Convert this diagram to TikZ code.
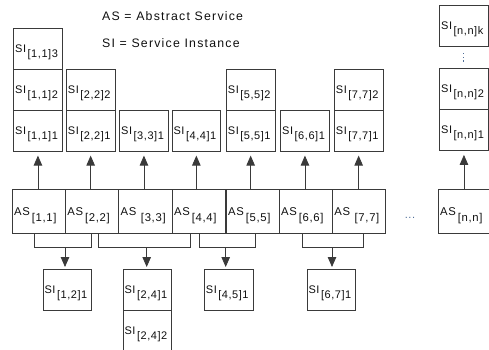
\documentclass[tikz,border=0pt]{standalone}
\usepackage{fontspec}
\setmainfont{Liberation Sans}
\newfontfamily\boxf[LetterSpace=5]{Liberation Sans}
\newfontfamily\asf[LetterSpace=6]{Liberation Sans}
\newfontfamily\legf[LetterSpace=10]{Liberation Sans}
\usetikzlibrary{arrows.meta,calc}
\definecolor{lc}{HTML}{3A3A3A}
\definecolor{tc}{HTML}{101010}
\definecolor{dc}{HTML}{4F6E98}
\newcommand{\silab}[1]{SI\kern1.5pt\raisebox{-5pt}{#1}}
\newcommand{\aslab}[2][2pt]{AS\kern#1\raisebox{-5.5pt}{#2}}
\begin{document}
\begin{tikzpicture}[x=1pt,y=-1pt,
  sibox/.style={draw=lc, line width=0.8pt, anchor=north west, inner xsep=1.5pt, inner ysep=0pt,
    text width=45.5pt, align=left, minimum height=41pt, text height=7.5pt, text depth=0pt,
    font=\boxf\fontsize{11}{12}\selectfont, text=tc},
  asbox/.style={draw=lc, line width=0.8pt, anchor=north west, inner xsep=2pt, inner ysep=0pt,
    text width=49.3pt, align=left, minimum height=43.7pt, text height=8.6pt, text depth=0pt,
    font=\asf\fontsize{11.3}{12}\selectfont, text=tc},
  ln/.style={draw=lc, line width=0.8pt},
  arr/.style={ln, -{Triangle[width=8.5pt,length=10pt]}},
  dotm/.style={fill=dc, inner sep=0pt, minimum width=1.3pt, minimum height=1.6pt},
  leg/.style={anchor=base west, inner sep=0pt, font=\legf\fontsize{12.3}{14}\selectfont, text=tc}
]
\useasboundingbox (0,0) rectangle (489,349);
\fill[white] (0,0) rectangle (489,349);

% legend
\node[leg] (legas) at (102,20) {AS = Abstract Service};
\node[leg] (legsi) at (102,47.7) {SI = Service Instance};

% upper service instances
\node[sibox] (s113) at (13.3,28.3) {\silab{[1,1]3}};
\node[sibox] (s112) at (13.3,69.3) {\silab{[1,1]2}};
\node[sibox] (s111) at (13.3,110) {\silab{[1,1]1}};
\node[sibox] (s222) at (66,69.3) {\silab{[2,2]2}};
\node[sibox] (s221) at (66,110) {\silab{[2,2]1}};
\node[sibox] (s331) at (119.3,110) {\silab{[3,3]1}};
\node[sibox] (s441) at (171.7,110) {\silab{[4,4]1}};
\node[sibox] (s552) at (226,69.3) {\silab{[5,5]2}};
\node[sibox] (s551) at (226,110) {\silab{[5,5]1}};
\node[sibox] (s661) at (280.3,110) {\silab{[6,6]1}};
\node[sibox] (s772) at (334,69.3) {\silab{[7,7]2}};
\node[sibox] (s771) at (334,110) {\silab{[7,7]1}};
\node[sibox] (snnk) at (439.3,5.3) {\silab{[n,n]k}};
\node[sibox] (snn2) at (439.3,68.3) {\silab{[n,n]2}};
\node[sibox] (snn1) at (439.3,109.3) {\silab{[n,n]1}};
\node[dotm] (vd1) at (463.8,53.5) {};
\node[dotm] (vd2) at (463.8,57.3) {};
\node[dotm] (vd3) at (463.8,61.1) {};

% abstract services
\node[asbox] (a1) at (11.7,189) {\aslab{[1,1]}};
\node[asbox] (a2) at (65,189) {\aslab{[2,2]}};
\node[asbox] (a3) at (118.3,189) {\aslab[4.5pt]{[3,3]}};
\node[asbox] (a4) at (171.7,189) {\aslab{[4,4]}};
\node[asbox] (a5) at (225.7,189) {\aslab{[5,5]}};
\node[asbox] (a6) at (278.7,189) {\aslab{[6,6]}};
\node[asbox] (a7) at (332,189) {\aslab[4.5pt]{[7,7]}};
\node[asbox, text width=46.8pt] (an) at (437.7,189) {\aslab{[n,n]}};
\node[anchor=base, text=dc, inner sep=0pt, font=\asf\fontsize{11}{12}\selectfont] (hdots) at (410,218.5) {...};

% arrows up
\foreach \a/\s in {a1/s111,a2/s221,a3/s331,a4/s441,a5/s551,a6/s661,a7/s771,an/snn1}
  \draw[arr] (\a.north -| \s.south) -- ([yshift=-3.8pt]\s.south);

% lower service instances
\node[sibox] (s121) at (42.7,269.3) {\silab{[1,2]1}};
\node[sibox] (s241) at (122.7,269.3) {\silab{[2,4]1}};
\node[sibox] (s242) at (122.7,310.3) {\silab{[2,4]2}};
\node[sibox] (s451) at (204,269.3) {\silab{[4,5]1}};
\node[sibox] (s671) at (306.7,269.3) {\silab{[6,7]1}};

% brackets
\coordinate (b1l) at (34.3,247.7);
\coordinate (b1r) at (91,247.7);
\coordinate (b1m) at (65,247.7);
\coordinate (b2l) at (98.3,247.7);
\coordinate (b2r) at (190.7,247.7);
\coordinate (b2m) at (146.7,247.7);
\coordinate (b3l) at (199,247.7);
\coordinate (b3r) at (255.7,247.7);
\coordinate (b3m) at (225.7,247.7);
\coordinate (b4l) at (302.7,247.7);
\coordinate (b4r) at (363.7,247.7);
\coordinate (b4m) at (332,247.7);

\draw[ln] (b1l |- a1.south) -- (b1l) -- (b1r) -- (b1r |- a2.south);
\draw[ln] (b2l |- a2.south) -- (b2l) -- (b2r) -- (b2r |- a4.south);
\draw[ln] (b3l |- a4.south) -- (b3l) -- (b3r) -- (b3r |- a5.south);
\draw[ln] (b4l |- a6.south) -- (b4l) -- (b4r) -- (b4r |- a7.south);

\draw[arr] (b1m) -- ([yshift=2.3pt]b1m |- s121.north);
\draw[arr] (b2m) -- ([yshift=2.3pt]b2m |- s241.north);
\draw[arr] (b3m) -- ([yshift=2.3pt]b3m |- s451.north);
\draw[arr] (b4m) -- ([yshift=2.3pt]b4m |- s671.north);
\end{tikzpicture}
\end{document}
